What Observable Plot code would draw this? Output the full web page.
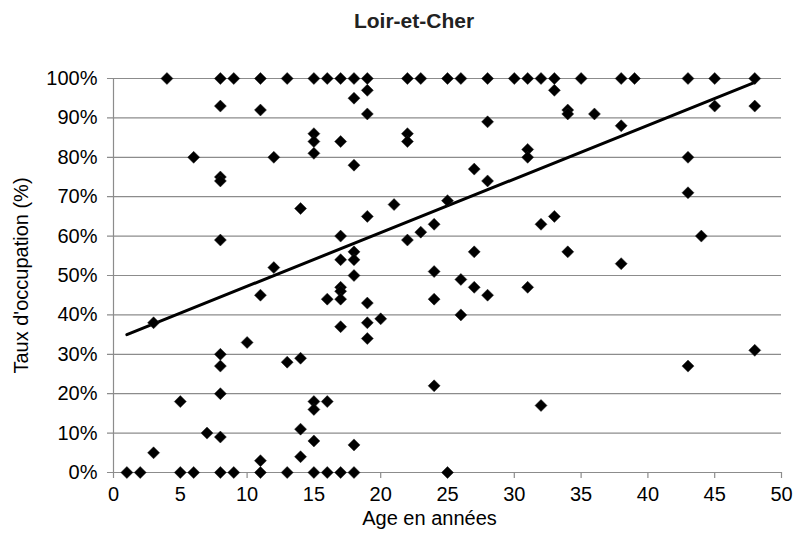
<!DOCTYPE html>
<html>
<head>
<meta charset="utf-8">
<script src="https://cdn.jsdelivr.net/npm/d3@7"></script>
<script src="https://cdn.jsdelivr.net/npm/@observablehq/plot@0.6"></script>
<style>
  html, body { margin: 0; padding: 0; background: #fff; }
  #wrap { position: relative; width: 803px; height: 545px; font-family: "Liberation Sans", Arial, sans-serif; }
  #title { position: absolute; left: 0; width: 828px; top: 9px; text-align: center; font-weight: bold; font-size: 21px; color: #222; }
</style>
</head>
<body>
<div id="wrap"><div id="title">Loir-et-Cher</div></div>
<script>
const title = "Loir-et-Cher";
const xLabel = "Age en années";
const yLabel = "Taux d'occupation (%)";
const xTicks = [0, 5, 10, 15, 20, 25, 30, 35, 40, 45, 50];
const yTicks = [0, 10, 20, 30, 40, 50, 60, 70, 80, 90, 100];

// Age (years) and occupation rate (%) for each observation
const ages = [
  4, 8, 9, 11, 13, 15, 16, 17, 18, 19, 22, 23, 25, 26, 28, 30, 31, 32, 33, 35, 38, 39, 43, 45, 48,
  1, 2, 5, 6, 8, 9, 11, 13, 15, 16, 17, 18, 25,
  3, 3, 5, 6, 7,
  8, 8, 8, 8, 8, 8, 8, 8,
  10, 11, 11, 11, 12, 12, 13,
  14, 14, 14, 14,
  15, 15, 15, 15, 15, 15,
  16, 16,
  17, 17, 17, 17, 17, 17, 17,
  18, 18, 18, 18, 18, 18,
  19, 19, 19, 19, 19, 19,
  20, 21, 22, 22, 22, 23,
  24, 24, 24, 24, 25, 26, 26,
  27, 27, 27, 28, 28, 28,
  31, 31, 31, 32, 32, 33, 33,
  34, 34, 34, 36, 38, 38,
  43, 43, 43, 44, 45, 48, 48
];
const taux = [
  100, 100, 100, 100, 100, 100, 100, 100, 100, 100, 100, 100, 100, 100, 100, 100, 100, 100, 100, 100, 100, 100, 100, 100, 100,
  0, 0, 0, 0, 0, 0, 0, 0, 0, 0, 0, 0, 0,
  38, 5, 18, 80, 10,
  93, 75, 74, 59, 30, 27, 20, 9,
  33, 92, 45, 3, 80, 52, 28,
  67, 29, 11, 4,
  86, 84, 81, 18, 16, 8,
  44, 18,
  84, 60, 54, 47, 46, 44, 37,
  95, 78, 56, 54, 50, 7,
  97, 91, 65, 43, 38, 34,
  39, 68, 86, 84, 59, 61,
  63, 51, 44, 22, 69, 49, 40,
  77, 56, 47, 89, 74, 45,
  82, 80, 47, 63, 17, 97, 65,
  92, 91, 56, 91, 88, 53,
  80, 71, 27, 60, 93, 93, 31
];

// Linear trendline as drawn in the reference (endpoints)
const trendAges = [1, 48];
const trendTaux = [35, 99];

const data = ages.map((a, i) => ({age: a, taux: taux[i]}));
const trend = trendAges.map((a, i) => ({age: a, taux: trendTaux[i]}));

const diamond = {
  draw(ctx, size) {
    const h = Math.sqrt(size / Math.PI);
    ctx.moveTo(0, -h); ctx.lineTo(h, 0); ctx.lineTo(0, h); ctx.lineTo(-h, 0); ctx.closePath();
  }
};

const grey = "#8c8c8c";

const chart = Plot.plot({
  width: 803,
  height: 545,
  marginLeft: 113,
  marginRight: 22,
  marginTop: 78,
  marginBottom: 73,
  style: {fontFamily: "'Liberation Sans', Arial, sans-serif", fontSize: "20px", color: "#000", background: "#fff"},
  x: {domain: [0, 50]},
  y: {domain: [0, 100]},
  marks: [
    Plot.gridY(yTicks, {stroke: grey, strokeOpacity: 1, strokeWidth: 1.2, x1: -0.45, x2: 50}),
    Plot.ruleX([0], {stroke: grey, strokeWidth: 1.2}),
    Plot.axisY(yTicks, {
      tickFormat: d => d + "%", tickSize: 0, tickPadding: 16, fontSize: 20,
      label: yLabel, labelAnchor: "center", labelArrow: "none", labelOffset: 100
    }),
    Plot.axisX(xTicks, {
      tickSize: 6, stroke: grey, strokeWidth: 1.2, tickPadding: 8, fontSize: 20, label: null
    }),
    Plot.text([xLabel], {frameAnchor: "bottom", lineAnchor: "bottom", dy: 52, dx: -18, fontSize: 20, fill: "#000"}),
    Plot.line(trend, {x: "age", y: "taux", stroke: "#000", strokeWidth: 3}),
    Plot.dot(data, {x: "age", y: "taux", symbol: diamond, r: 6, fill: "#000", stroke: "#222", strokeWidth: 0.5})
  ]
});
document.getElementById("wrap").appendChild(chart);
chart.style.position = "absolute";
chart.style.left = "0";
chart.style.top = "0";
document.getElementById("title").textContent = title;
document.getElementById("wrap").appendChild(document.getElementById("title"));
</script>
</body>
</html>
